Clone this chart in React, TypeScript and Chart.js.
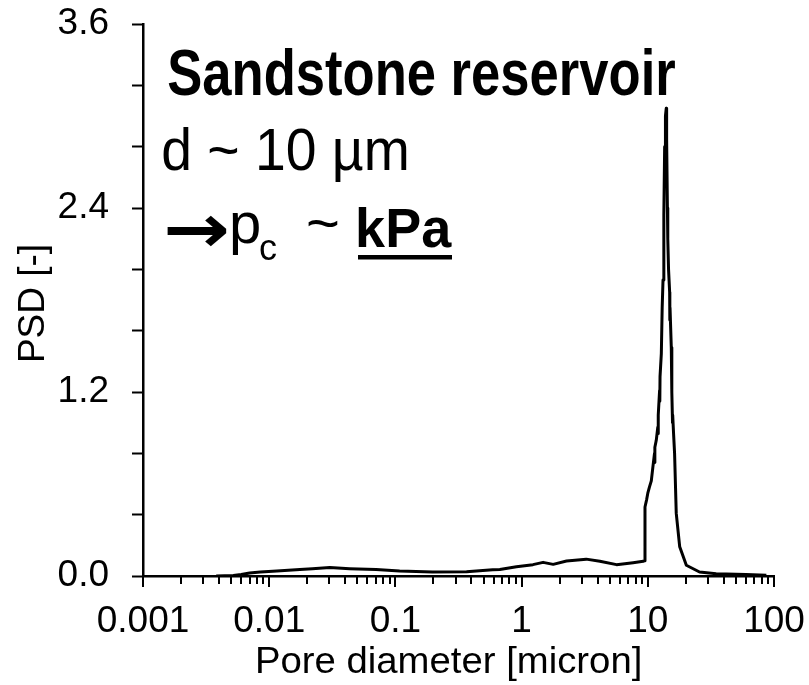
import React, { useEffect, useRef } from "react";
import { Chart, registerables } from "chart.js";

Chart.register(...registerables);

// ---- data ----
const poreDiameter = [
  0.0038, 0.0052, 0.006, 0.007, 0.0085, 0.0115, 0.0175, 0.022, 0.0302, 0.0434,
  0.0703, 0.108, 0.197, 0.366, 0.59, 0.672, 0.91, 1.23, 1.48, 1.78,
  2.27, 3.25, 4.17, 5.65, 7.65, 9.2, 9.44, 9.5, 9.8, 10.0,
  10.3, 10.66, 10.97, 11.3, 11.35, 11.4, 11.67, 12.0, 12.05, 12.1,
  12.4, 12.45, 12.5, 12.8, 13.0, 13.2, 13.4, 13.6, 13.7, 13.8,
  14.0, 14.1, 14.3, 14.4, 14.6, 14.9, 14.95, 15.0, 15.35, 15.5,
  15.7, 15.75, 16.0, 16.3, 16.8, 17.9, 20.2, 25.7, 34.8, 60, 87,
];
const psdValues = [
  0.0, 0.003, 0.01, 0.02, 0.026, 0.033, 0.042, 0.048, 0.055, 0.048,
  0.042, 0.033, 0.026, 0.028, 0.04, 0.042, 0.06, 0.074, 0.089, 0.076,
  0.098, 0.11, 0.096, 0.074, 0.087, 0.096, 0.1, 0.45, 0.5, 0.54,
  0.58, 0.62, 0.71, 0.8, 0.74, 0.84, 0.885, 0.97, 0.93, 1.05,
  1.21, 1.14, 1.3, 1.45, 1.75, 1.93, 2.36, 2.8, 2.65, 3.0,
  3.05, 2.85, 2.4, 2.2, 2.0, 1.85, 1.67, 1.75, 1.49, 1.2,
  1.0, 1.05, 0.93, 0.8, 0.41, 0.19, 0.07, 0.026, 0.015, 0.01, 0.005,
];

const xDecades = [0.001, 0.01, 0.1, 1, 10, 100];
const xTickLabels = ["0.001", "0.01", "0.1", "1", "10", "100"];
const minorSignificands = [2, 3, 4, 5, 6, 7, 8, 9];
const yMin = 0;
const yMax = 3.6;
const yMinorStep = 0.4;
const yTickValues = [0, 1.2, 2.4, 3.6];
const yTickLabels = ["0.0", "1.2", "2.4", "3.6"];

const xTitle = "Pore diameter [micron]";
const yTitle = "PSD [-]";
const headLine = "Sandstone reservoir";
const sizeLine = "d ~ 10 µm";
const arrowText = "→";
const pText = "p";
const pSub = "c";
const tildeText = "~";
const unitText = "kPa";

const FONT = "'Liberation Sans', Arial, Helvetica, sans-serif";

function drawInk(
  ctx: CanvasRenderingContext2D,
  text: string,
  inkLeft: number,
  baseline: number,
  font: string,
  inkWidth?: number
) {
  ctx.save();
  ctx.font = font;
  ctx.textAlign = "left";
  ctx.textBaseline = "alphabetic";
  ctx.fillStyle = "#000";
  const m = ctx.measureText(text);
  const w = m.actualBoundingBoxLeft + m.actualBoundingBoxRight;
  const sx = inkWidth ? inkWidth / w : 1;
  ctx.translate(inkLeft, baseline);
  ctx.scale(sx, 1);
  ctx.fillText(text, m.actualBoundingBoxLeft, 0);
  ctx.restore();
}

// fits the ink of a glyph into a box
function drawInkBox(
  ctx: CanvasRenderingContext2D,
  text: string,
  left: number,
  top: number,
  width: number,
  height: number,
  font: string
) {
  ctx.save();
  ctx.font = font;
  ctx.textAlign = "left";
  ctx.textBaseline = "alphabetic";
  ctx.fillStyle = "#000";
  const m = ctx.measureText(text);
  const w = m.actualBoundingBoxLeft + m.actualBoundingBoxRight;
  const h = m.actualBoundingBoxAscent + m.actualBoundingBoxDescent;
  ctx.translate(left, top);
  ctx.scale(width / w, height / h);
  ctx.fillText(text, m.actualBoundingBoxLeft, m.actualBoundingBoxAscent);
  ctx.restore();
}

const zeroPadding = (scale: any) => {
  scale.paddingTop = 0;
  scale.paddingBottom = 0;
  scale.paddingLeft = 0;
  scale.paddingRight = 0;
};

const decorPlugin = {
  id: "decor",
  afterDraw(chart: any) {
    const ctx: CanvasRenderingContext2D = chart.ctx;
    const xs = chart.scales.x;
    const area = chart.chartArea;
    // x tick marks: longer for decades, shorter for minor
    ctx.save();
    ctx.strokeStyle = "#000";
    ctx.lineWidth = 2;
    xs.ticks.forEach((t: any) => {
      const isDecade = xDecades.some((d) => Math.abs(d - t.value) / d < 1e-6);
      const px = Math.round(xs.getPixelForValue(t.value));
      ctx.beginPath();
      ctx.moveTo(px, area.bottom);
      ctx.lineTo(px, area.bottom + (isDecade ? 11 : 8));
      ctx.stroke();
    });
    ctx.restore();

    // axis titles
    drawInk(ctx, xTitle, 258, 673, `37px ${FONT}`, 382);
    ctx.save();
    ctx.font = `37px ${FONT}`;
    ctx.fillStyle = "#000";
    ctx.translate(44, 303.5);
    ctx.rotate(-Math.PI / 2);
    ctx.textAlign = "center";
    ctx.textBaseline = "alphabetic";
    ctx.fillText(yTitle, 0, 0);
    ctx.restore();

    // annotation text
    drawInk(ctx, headLine, 168, 95, `bold 64px ${FONT}`, 507);
    drawInk(ctx, sizeLine, 163, 170, `60px ${FONT}`, 244);
    drawInkBox(ctx, arrowText, 167, 215, 60, 31, `bold 80px 'DejaVu Sans', ${FONT}`);
    drawInk(ctx, pText, 232, 243, `58px ${FONT}`);
    drawInk(ctx, pSub, 260, 260, `36px ${FONT}`);
    drawInk(ctx, tildeText, 308, 243, `58px ${FONT}`);
    drawInk(ctx, unitText, 358, 247, `bold 56px ${FONT}`, 94);
    ctx.save();
    ctx.fillStyle = "#000";
    ctx.fillRect(358, 255, 94, 4.5);
    ctx.restore();
  },
};

export default function App() {
  const canvasRef = useRef<HTMLCanvasElement | null>(null);

  useEffect(() => {
    const canvas = canvasRef.current;
    if (!canvas) return;
    const points = poreDiameter.map((x, i) => ({ x, y: psdValues[i] }));
    const chart = new Chart(canvas, {
      type: "line",
      data: {
        datasets: [
          {
            data: points,
            borderColor: "#000",
            borderWidth: 3,
            pointRadius: 0,
            tension: 0,
            fill: false,
            borderJoinStyle: "round",
          },
        ],
      },
      options: {
        animation: false,
        responsive: false,
        devicePixelRatio: 1,
        parsing: false as any,
        layout: { padding: { top: 24, right: 35, bottom: 0, left: 0 } },
        plugins: {
          legend: { display: false },
          tooltip: { enabled: false },
          title: { display: false },
        },
        scales: {
          x: {
            type: "logarithmic",
            min: xDecades[0],
            max: xDecades[xDecades.length - 1],
            afterBuildTicks: (scale: any) => {
              const ticks: any[] = [];
              xDecades.forEach((d, i) => {
                ticks.push({ value: d, major: false });
                if (i < xDecades.length - 1) {
                  minorSignificands.forEach((s) => ticks.push({ value: d * s, major: false }));
                }
              });
              scale.ticks = ticks;
            },
            afterFit: (scale: any) => {
              scale.height = 109;
              zeroPadding(scale);
            },
            border: { display: true, color: "#000", width: 2.5 },
            grid: {
              display: true,
              drawOnChartArea: false,
              drawTicks: true,
              tickLength: 11,
              tickColor: "rgba(0,0,0,0)",
            },
            ticks: {
              autoSkip: false,
              maxRotation: 0,
              minRotation: 0,
              padding: 13,
              color: "#000",
              font: { family: FONT, size: 37 },
              callback: (value: any) => {
                const i = xDecades.findIndex((d) => Math.abs(d - Number(value)) / d < 1e-6);
                return i >= 0 ? xTickLabels[i] : "";
              },
            },
            title: { display: false },
          },
          y: {
            type: "linear",
            min: yMin,
            max: yMax,
            afterFit: (scale: any) => {
              scale.width = 143;
              zeroPadding(scale);
            },
            border: { display: true, color: "#000", width: 2.5 },
            grid: {
              display: true,
              drawOnChartArea: false,
              drawTicks: true,
              tickLength: 11,
              tickWidth: 2,
              tickColor: "#000",
            },
            ticks: {
              stepSize: yMinorStep,
              autoSkip: false,
              padding: 23,
              color: "#000",
              font: { family: FONT, size: 37 },
              callback: (value: any) => {
                const i = yTickValues.findIndex((v) => Math.abs(v - Number(value)) < 1e-6);
                return i >= 0 ? yTickLabels[i] : "";
              },
            },
            title: { display: false },
          },
        },
      },
      plugins: [decorPlugin],
    });
    return () => chart.destroy();
  }, []);

  return (
    <div style={{ position: "absolute", left: 0, top: 0, width: 809, height: 685, background: "#fff" }}>
      <canvas ref={canvasRef} width={809} height={685} style={{ display: "block" }} />
    </div>
  );
}
